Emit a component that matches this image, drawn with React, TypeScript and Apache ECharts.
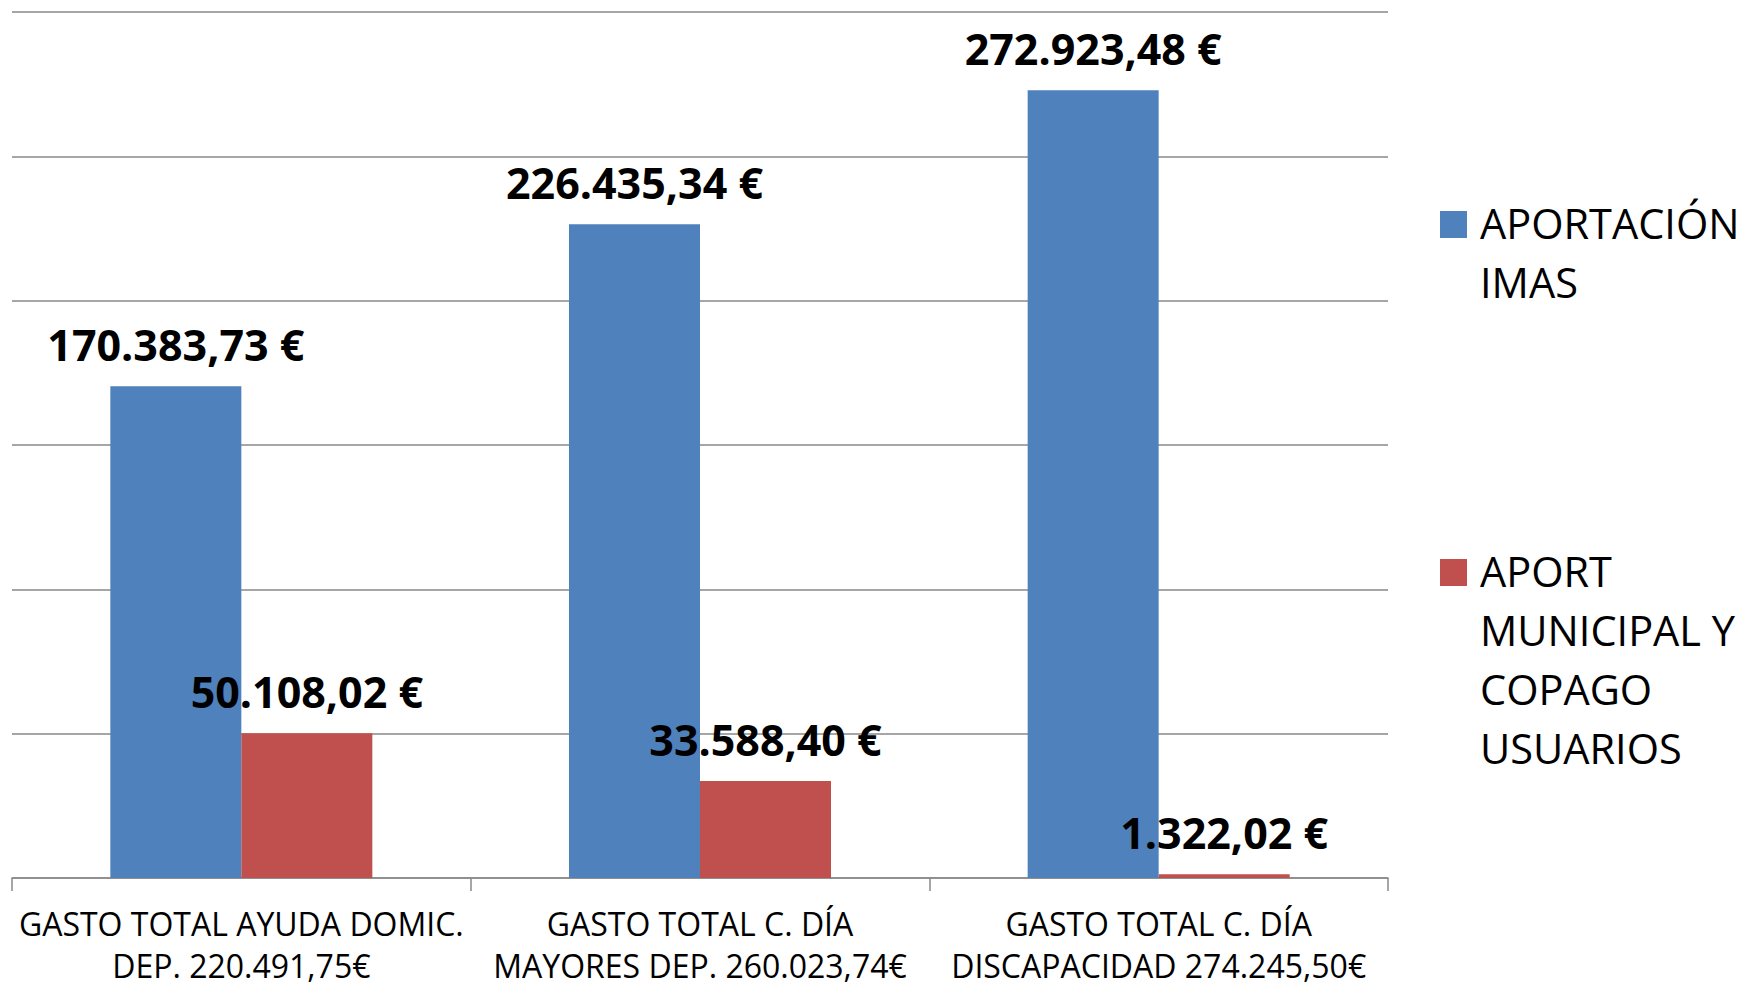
import React, { useEffect, useRef } from "react";
import * as echarts from "echarts";

const categories = [
  "GASTO TOTAL AYUDA DOMIC.\nDEP. 220.491,75€",
  "GASTO TOTAL C. DÍA\nMAYORES DEP. 260.023,74€",
  "GASTO TOTAL C. DÍA\nDISCAPACIDAD 274.245,50€",
];
const seriesNames = ["APORTACIÓN IMAS", "APORT MUNICIPAL Y COPAGO USUARIOS"];
const legendLines = [
  ["APORTACIÓN", "IMAS"],
  ["APORT", "MUNICIPAL Y", "COPAGO", "USUARIOS"],
];
const imasValues = [170383.73, 226435.34, 272923.48];
const municipalValues = [50108.02, 33588.4, 1322.02];
const colors = ["#4F81BD", "#C0504D"];
const yMin = 0;
const yMax = 300000;
const yInterval = 50000;

function fmtEuro(v: number): string {
  const [intPart, dec] = v.toFixed(2).split(".");
  const withDots = intPart.replace(/\B(?=(\d{3})+(?!\d))/g, ".");
  return withDots + "," + dec + " €";
}

export default function App() {
  const ref = useRef<HTMLDivElement>(null);
  useEffect(() => {
    if (!ref.current) return;
    const chart = echarts.init(ref.current, undefined, { renderer: "svg" });
    const font = "'Open Sans', 'Noto Sans', sans-serif";
    const labelStyle = {
      show: true,
      position: "top" as const,
      distance: 20,
      fontFamily: font,
      fontWeight: "bold" as const,
      fontSize: 43,
      color: "#000",
      formatter: (p: any) => fmtEuro(p.value),
    };
    const legendGraphics: any[] = [];
    const legendTops = [193, 541];
    const rectTops = [211, 559];
    legendLines.forEach((lines, i) => {
      legendGraphics.push({
        type: "rect",
        left: 1440,
        top: rectTops[i],
        shape: { width: 27, height: 27 },
        style: { fill: colors[i] },
      });
      legendGraphics.push({
        type: "text",
        left: 1480,
        top: legendTops[i],
        style: {
          text: lines.join("\n"),
          fontFamily: font,
          fontSize: 41.5,
          lineHeight: 59,
          fill: "#000",
        },
      });
    });
    chart.setOption({
      animation: false,
      backgroundColor: "#fff",
      grid: {
        left: 12,
        right: 354,
        top: 12,
        bottom: 110,
        containLabel: false,
        outerBoundsMode: "none",
      },
      xAxis: {
        type: "category",
        data: categories,
        axisLine: { show: true, lineStyle: { color: "#898989", width: 1.5 } },
        axisTick: { show: true, length: 13, lineStyle: { color: "#898989", width: 1.5 } },
        axisLabel: {
          interval: 0,
          margin: 19,
          fontFamily: font,
          fontSize: 32,
          color: "#000",
          formatter: (v: string) => {
            const parts = v.split("\n");
            return "{a|" + parts[0] + "}\n{b|" + parts[1] + "}";
          },
          rich: {
            a: { fontFamily: font, fontSize: 32, lineHeight: 52, color: "#000", align: "center" },
            b: { fontFamily: font, fontSize: 32, lineHeight: 32, color: "#000", align: "center" },
          },
        },
      },
      yAxis: {
        type: "value",
        min: yMin,
        max: yMax,
        interval: yInterval,
        axisLabel: { show: false },
        axisLine: { show: false },
        axisTick: { show: false },
        splitLine: { show: true, lineStyle: { color: "#898989", width: 1.5 } },
      },
      series: [
        {
          name: seriesNames[0],
          type: "bar",
          data: imasValues,
          barWidth: 131,
          barGap: "0%",
          itemStyle: { color: colors[0] },
          label: labelStyle,
        },
        {
          name: seriesNames[1],
          type: "bar",
          data: municipalValues,
          barWidth: 131,
          barGap: "0%",
          itemStyle: { color: colors[1] },
          label: labelStyle,
        },
      ],
      graphic: legendGraphics,
    });
    return () => chart.dispose();
  }, []);
  return (
    <div
      ref={ref}
      style={{ position: "fixed", left: 0, top: 0, width: 1742, height: 988, background: "#fff" }}
    />
  );
}
